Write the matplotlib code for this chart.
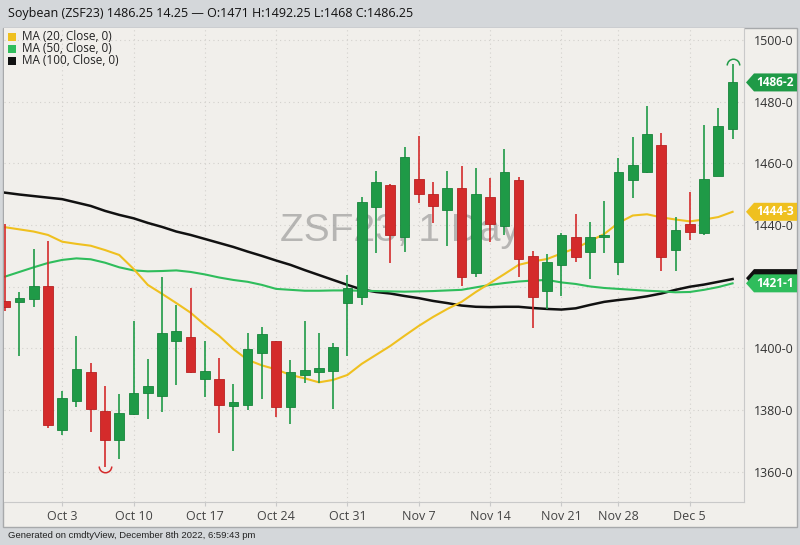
import matplotlib
matplotlib.use("Agg")
import matplotlib.pyplot as plt
from matplotlib.patches import Rectangle, Polygon
from matplotlib.path import Path
import matplotlib.transforms as mtransforms
import numpy as np

# ---------------- data ----------------
dates = ["Sep 27", "Sep 28", "Sep 29", "Sep 30",
         "Oct 3", "Oct 4", "Oct 5", "Oct 6", "Oct 7",
         "Oct 10", "Oct 11", "Oct 12", "Oct 13", "Oct 14",
         "Oct 17", "Oct 18", "Oct 19", "Oct 20", "Oct 21",
         "Oct 24", "Oct 25", "Oct 26", "Oct 27", "Oct 28",
         "Oct 31", "Nov 1", "Nov 2", "Nov 3", "Nov 4",
         "Nov 7", "Nov 8", "Nov 9", "Nov 10", "Nov 11",
         "Nov 14", "Nov 15", "Nov 16", "Nov 17", "Nov 18",
         "Nov 21", "Nov 22", "Nov 23", "Nov 25",
         "Nov 28", "Nov 29", "Nov 30", "Dec 1", "Dec 2",
         "Dec 5", "Dec 6", "Dec 7", "Dec 8"]

opens = [1415.5, 1415.0, 1416.0, 1420.3,
         1373.6, 1383.1, 1392.2, 1379.7, 1370.3,
         1378.8, 1385.7, 1384.7, 1402.5, 1403.6,
         1390.1, 1390.0, 1381.4, 1381.5, 1398.6,
         1402.5, 1380.9, 1391.4, 1392.5, 1392.8,
         1414.8, 1416.8, 1445.8, 1453.0, 1436.0,
         1455.0, 1450.2, 1444.9, 1451.9, 1424.3,
         1449.2, 1439.8, 1454.6, 1430.0, 1418.7,
         1427.1, 1436.0, 1431.2, 1436.1,
         1427.9, 1454.6, 1457.1, 1466.0, 1431.9,
         1440.4, 1437.3, 1455.9, 1471.0]
highs = [1440.5, 1418.4, 1432.2, 1434.8,
         1386.3, 1404.0, 1395.2, 1387.8, 1385.2,
         1408.9, 1396.6, 1423.1, 1414.1, 1419.5,
         1402.4, 1396.8, 1388.4, 1404.9, 1407.1,
         1402.5, 1396.3, 1408.9, 1404.9, 1401.9,
         1423.8, 1449.0, 1457.6, 1453.2, 1465.4,
         1469.0, 1454.1, 1457.6, 1459.2, 1458.4,
         1455.2, 1464.6, 1455.5, 1431.7, 1430.6,
         1437.5, 1443.5, 1440.9, 1447.9,
         1461.7, 1468.5, 1478.6, 1469.8, 1442.7,
         1450.7, 1472.4, 1478.1, 1492.25]
lows = [1412.0, 1397.6, 1413.5, 1374.1,
        1372.0, 1381.1, 1372.8, 1361.7, 1364.1,
        1378.4, 1377.0, 1379.5, 1388.0, 1392.0,
        1384.2, 1372.5, 1366.6, 1380.1, 1383.5,
        1377.7, 1375.4, 1388.7, 1388.9, 1380.4,
        1397.6, 1414.1, 1430.9, 1427.8, 1431.4,
        1447.1, 1440.6, 1433.2, 1420.4, 1423.3,
        1434.6, 1436.8, 1423.3, 1406.5, 1412.7,
        1417.0, 1428.1, 1422.4, 1430.9,
        1423.8, 1448.9, 1457.0, 1425.1, 1425.2,
        1435.3, 1436.8, 1455.9, 1468.0]
closes = [1413.5, 1416.3, 1420.4, 1375.2,
          1383.9, 1393.4, 1380.4, 1370.3, 1379.2,
          1385.7, 1387.8, 1404.9, 1405.5, 1392.3,
          1392.8, 1381.7, 1382.6, 1399.8, 1404.6,
          1380.9, 1392.2, 1393.0, 1393.6, 1400.3,
          1419.5, 1447.6, 1454.1, 1436.8, 1462.2,
          1450.1, 1446.3, 1451.9, 1423.0, 1450.0,
          1440.4, 1457.3, 1429.0, 1416.8, 1428.1,
          1436.8, 1429.6, 1436.0, 1436.8,
          1457.3, 1459.5, 1469.5, 1429.8, 1438.4,
          1437.7, 1454.9, 1472.1, 1486.25]

ma20 = [1439.3, 1438.6, 1437.9, 1436.8, 1434.6, 1433.9, 1433.3, 1431.9, 1430.3,
        1425.8, 1420.6, 1417.7, 1414.7, 1411.6, 1407.6, 1404.1, 1399.8, 1396.3,
        1394.5, 1393.2, 1391.4, 1390.3, 1389.0, 1389.8, 1391.4, 1395.0, 1397.9,
        1400.8, 1404.1, 1407.3, 1410.2, 1412.8, 1415.1, 1418.3, 1421.2, 1424.1,
        1427.1, 1428.2, 1429.0, 1430.8, 1432.5, 1434.8, 1437.1, 1440.7, 1443.1,
        1443.5, 1442.5, 1441.8, 1441.2, 1441.8, 1442.6, 1444.3]
ma50 = [1423.3, 1424.8, 1426.3, 1427.7, 1428.7, 1429.2, 1428.9, 1427.8, 1426.3,
        1425.3, 1425.0, 1425.1, 1425.3, 1424.8, 1424.0, 1423.0, 1422.2, 1421.6,
        1420.6, 1419.3, 1419.0, 1418.7, 1418.7, 1418.8, 1418.8, 1418.7, 1418.6,
        1418.5, 1418.4, 1418.5, 1418.6, 1418.8, 1419.0, 1419.8, 1420.6, 1421.2,
        1421.7, 1422.0, 1422.2, 1421.4, 1420.9, 1420.1, 1419.6, 1419.3, 1419.0,
        1418.7, 1418.5, 1418.2, 1418.3, 1419.0, 1419.9, 1421.1]
ma100 = [1450.5, 1449.9, 1449.4, 1448.9, 1448.4, 1447.3, 1446.2, 1444.6, 1443.3,
         1442.2, 1440.7, 1439.4, 1437.9, 1436.8, 1435.5, 1434.2, 1432.9, 1431.4,
         1430.0, 1428.5, 1427.1, 1425.4, 1423.8, 1422.2, 1420.6, 1419.1, 1418.3,
         1417.8, 1417.0, 1416.3, 1415.4, 1414.7, 1413.9, 1413.5, 1413.4, 1413.5,
         1413.5, 1413.1, 1412.8, 1412.6, 1413.0, 1414.1, 1415.1, 1415.7, 1416.2,
         1416.9, 1417.8, 1419.0, 1420.0, 1420.7, 1421.6, 1422.5]

week_ticks = ["Oct 3", "Oct 10", "Oct 17", "Oct 24", "Oct 31",
              "Nov 7", "Nov 14", "Nov 21", "Nov 28", "Dec 5"]
y_ticks = [1360, 1380, 1400, 1420, 1440, 1460, 1480, 1500]

title = "Soybean (ZSF23) 1486.25 14.25 \u2014 O:1471 H:1492.25 L:1468 C:1486.25"
legend_labels = ["MA (20, Close, 0)", "MA (50, Close, 0)", "MA (100, Close, 0)"]
footer = "Generated on cmdtyView, December 8th 2022, 6:59:43 pm"

# ---------------- style ----------------
C_UP = "#1f9a47"
C_UP_EDGE = "#17843b"
C_DN = "#d42b2b"
C_DN_EDGE = "#b82222"
C_MA20 = "#efc01f"
C_MA50 = "#2fbd5c"
C_MA100 = "#111111"
BG = "#f1efeb"
HEADER = "#d4d7da"
W, H = 800, 545
AX_L, AX_R, AX_T, AX_B = 4, 744, 28, 502

fig = plt.figure(figsize=(8, 5.45), dpi=100, facecolor=HEADER)

def fx(px):
    return px / W

def fy(py):
    return 1 - py / H

# panel (behind everything)
panel = Rectangle((fx(3), fy(527)), fx(794), (527 - 28) / H,
                  transform=fig.transFigure, facecolor=BG,
                  edgecolor="#a7a9ab", linewidth=1.0, zorder=-10)
fig.patches.append(panel)

ax = fig.add_axes([fx(AX_L), fy(AX_B), fx(AX_R - AX_L), (AX_B - AX_T) / H])
ax.set_zorder(1)
ax.set_facecolor(BG)

x = np.arange(len(dates))

# grid
for yt in y_ticks:
    ax.axhline(yt, color="#d3d1cd", lw=0.8, ls=(0, (1, 3)), zorder=0)
tick_pos = [dates.index(d) for d in week_ticks]
for tp in tick_pos:
    ax.axvline(tp, color="#d3d1cd", lw=0.8, ls=(0, (1, 3)), zorder=0)

# watermark
ax.text((400 - AX_L) / (AX_R - AX_L), 1 - (231 - AX_T) / (AX_B - AX_T), "ZSF23, 1 Day",
        transform=ax.transAxes, ha="center", va="center", fontsize=28,
        family="Liberation Sans", color="#8f8f8f", alpha=0.6, zorder=1)

# moving averages
ax.plot(x, ma100, color=C_MA100, lw=1.8, zorder=2)
ax.plot(x, ma50, color=C_MA50, lw=1.5, zorder=2)
ax.plot(x, ma20, color=C_MA20, lw=1.5, zorder=2)

# candles
o = np.array(opens); c = np.array(closes)
hi = np.array(highs); lo = np.array(lows)
up = c >= o
cols = np.where(up, C_UP, C_DN)
edges = np.where(up, C_UP_EDGE, C_DN_EDGE)
ax.vlines(x, lo, hi, colors=cols, lw=1.2, zorder=3)
body_h = np.abs(c - o)
body_h = np.maximum(body_h, 0.6)
ax.bar(x, body_h, bottom=np.minimum(o, c), width=0.68, color=cols,
       edgecolor=edges, linewidth=0.6, zorder=4)

# high / low markers
low_i = int(np.argmin(lo))
high_i = int(np.argmax(hi))
low_arc = Path.arc(180, 360)
high_arc = Path.arc(0, 180)
ax.plot([low_i], [lo[low_i] + 0.3], marker=low_arc, ms=9, mfc="none",
        mec=C_DN, mew=1.1, ls="none", zorder=5, clip_on=False)
ax.plot([high_i], [hi[high_i] - 0.3], marker=high_arc, ms=9, mfc="none",
        mec=C_UP, mew=1.1, ls="none", zorder=5, clip_on=False)

ax.set_xlim(-0.08, 51.8)
ax.set_ylim(1350.2, 1503.9)

# axes styling
for s in ["top", "left"]:
    ax.spines[s].set_visible(False)
ax.spines["bottom"].set_color("#c9c9c9")
ax.spines["right"].set_color("#c9c9c9")
ax.yaxis.tick_right()
ax.set_yticks(y_ticks)
ax.set_yticklabels([f"{v}-0" for v in y_ticks], fontsize=9, color="#333333",
                   family="Open Sans")
ax.tick_params(axis="y", length=0, pad=7)
ax.set_xticks(tick_pos)
ax.set_xticklabels(week_ticks, fontsize=9, color="#444444", family="Open Sans")
ax.tick_params(axis="x", length=3, color="#c9c9c9", pad=3)

# value tags on right axis (polygon shapes with centred text)
trans = mtransforms.blended_transform_factory(ax.transAxes, ax.transData)
yunit_per_px = (1503.9 - 1350.2) / (AX_B - AX_T)

def axfrac(px):
    return (px - AX_L) / (AX_R - AX_L)

def tag(val, txt, fc, show_text=True):
    hh = 9 * yunit_per_px
    tip, left, right = axfrac(746), axfrac(754), axfrac(797)
    poly = Polygon([(tip, val), (left, val + hh), (right, val + hh),
                    (right, val - hh), (left, val - hh)], closed=True,
                   transform=trans, facecolor=fc, edgecolor="none",
                   clip_on=False, zorder=6)
    ax.add_patch(poly)
    if show_text:
        ax.text((left + right) / 2, val, txt, transform=trans, ha="center",
                va="center", fontsize=8.6, fontweight="bold", color="white",
                family="Open Sans", clip_on=False, zorder=7)

tag(ma100[-1] + 0.3, "", C_MA100, show_text=False)
tag(ma50[-1], "1421-1", C_MA50)
tag(ma20[-1], "1444-3", C_MA20)
tag(closes[-1], "1486-2", C_UP)

# header / legend / footer
fig.text(fx(8), fy(13), title, fontsize=9.0, color="#111111",
         family="Open Sans", va="center", ha="left")
leg_cols = [C_MA20, C_MA50, C_MA100]
for k, (lab, col) in enumerate(zip(legend_labels, leg_cols)):
    yc = 37 + 12 * k
    fig.patches.append(Rectangle((fx(8), fy(yc + 4)), fx(8), 8 / H,
                                 transform=fig.transFigure, facecolor=col,
                                 edgecolor="none", zorder=5))
    fig.text(fx(22), fy(yc), lab, fontsize=8.5, color="#222222",
             family="Open Sans", va="center", ha="left", zorder=5)

fig.text(fx(8), fy(536), footer, fontsize=6.8, color="#222222",
         family="Liberation Sans", va="center", ha="left")

fig.savefig("out.png", dpi=100, facecolor=HEADER)
